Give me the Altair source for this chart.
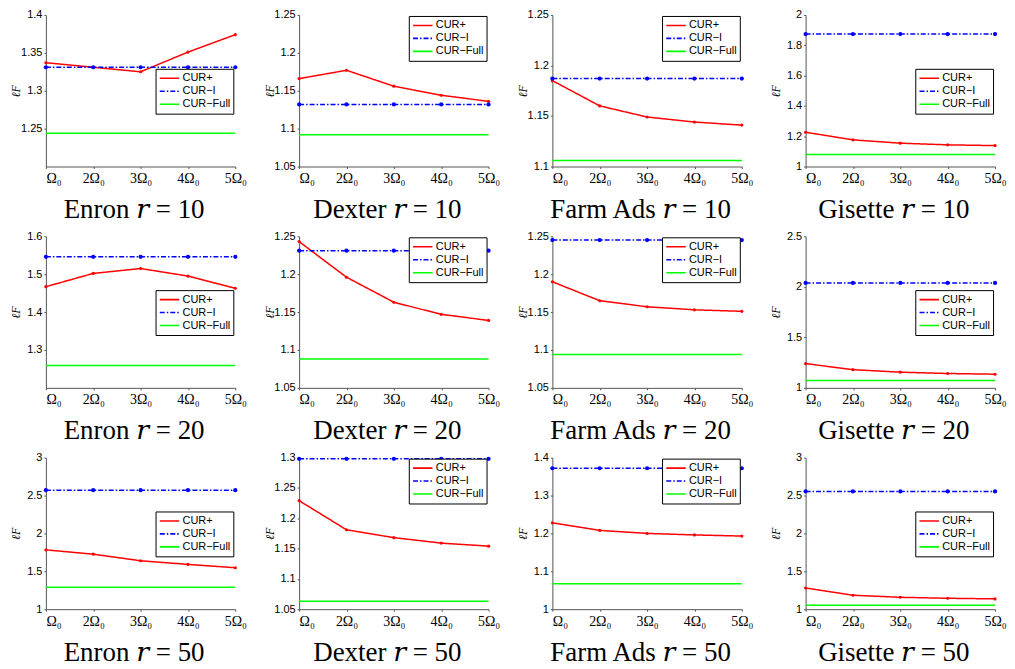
import altair as alt
import pandas as pd

STEPS = [1, 2, 3, 4, 5]
SERIES = ["CUR+", "CUR−I", "CUR−Full"]
COLORS = ["#ff0000", "#0000ff", "#00ff00"]
DASHES = [[1, 0], [5, 2, 1.5, 2], [1, 0]]

# ---- r = 10 ----
ENRON_R10_PLUS = [1.337, 1.331, 1.325, 1.351, 1.374]
ENRON_R10_I = [1.331, 1.331, 1.331, 1.331, 1.331]
ENRON_R10_FULL = [1.244, 1.244, 1.244, 1.244, 1.244]

DEXTER_R10_PLUS = [1.166, 1.177, 1.156, 1.144, 1.136]
DEXTER_R10_I = [1.132, 1.132, 1.132, 1.132, 1.132]
DEXTER_R10_FULL = [1.092, 1.092, 1.092, 1.092, 1.092]

FARM_R10_PLUS = [1.185, 1.160, 1.149, 1.144, 1.141]
FARM_R10_I = [1.187, 1.187, 1.187, 1.187, 1.187]
FARM_R10_FULL = [1.106, 1.106, 1.106, 1.106, 1.106]

GISETTE_R10_PLUS = [1.226, 1.176, 1.154, 1.143, 1.138]
GISETTE_R10_I = [1.874, 1.874, 1.874, 1.874, 1.874]
GISETTE_R10_FULL = [1.079, 1.079, 1.079, 1.079, 1.079]

# ---- r = 20 ----
ENRON_R20_PLUS = [1.467, 1.502, 1.515, 1.495, 1.463]
ENRON_R20_I = [1.546, 1.546, 1.546, 1.546, 1.546]
ENRON_R20_FULL = [1.259, 1.259, 1.259, 1.259, 1.259]

DEXTER_R20_PLUS = [1.243, 1.196, 1.163, 1.147, 1.139]
DEXTER_R20_I = [1.231, 1.231, 1.231, 1.231, 1.231]
DEXTER_R20_FULL = [1.088, 1.088, 1.088, 1.088, 1.088]

FARM_R20_PLUS = [1.190, 1.165, 1.157, 1.153, 1.151]
FARM_R20_I = [1.245, 1.245, 1.245, 1.245, 1.245]
FARM_R20_FULL = [1.094, 1.094, 1.094, 1.094, 1.094]

GISETTE_R20_PLUS = [1.240, 1.180, 1.155, 1.142, 1.135]
GISETTE_R20_I = [2.038, 2.038, 2.038, 2.038, 2.038]
GISETTE_R20_FULL = [1.073, 1.073, 1.073, 1.073, 1.073]

# ---- r = 50 ----
ENRON_R50_PLUS = [1.783, 1.726, 1.639, 1.591, 1.547]
ENRON_R50_I = [2.570, 2.570, 2.570, 2.570, 2.570]
ENRON_R50_FULL = [1.289, 1.289, 1.289, 1.289, 1.289]

DEXTER_R50_PLUS = [1.229, 1.181, 1.168, 1.159, 1.154]
DEXTER_R50_I = [1.298, 1.298, 1.298, 1.298, 1.298]
DEXTER_R50_FULL = [1.063, 1.063, 1.063, 1.063, 1.063]

FARM_R50_PLUS = [1.228, 1.208, 1.200, 1.196, 1.193]
FARM_R50_I = [1.372, 1.372, 1.372, 1.372, 1.372]
FARM_R50_FULL = [1.067, 1.067, 1.067, 1.067, 1.067]

GISETTE_R50_PLUS = [1.280, 1.184, 1.157, 1.144, 1.136]
GISETTE_R50_I = [2.554, 2.554, 2.554, 2.554, 2.554]
GISETTE_R50_FULL = [1.053, 1.053, 1.053, 1.053, 1.053]

# y axis domains / ticks per panel
TICKS_ENRON_10 = [1.25, 1.3, 1.35, 1.4]
TICKS_DEXTER_10 = [1.05, 1.1, 1.15, 1.2, 1.25]
TICKS_FARM_10 = [1.1, 1.15, 1.2, 1.25]
TICKS_GISETTE_10 = [1, 1.2, 1.4, 1.6, 1.8, 2]
TICKS_ENRON_20 = [1.3, 1.4, 1.5, 1.6]
TICKS_DEXTER_20 = [1.05, 1.1, 1.15, 1.2, 1.25]
TICKS_FARM_20 = [1.05, 1.1, 1.15, 1.2, 1.25]
TICKS_GISETTE_20 = [1, 1.5, 2, 2.5]
TICKS_ENRON_50 = [1, 1.5, 2, 2.5, 3]
TICKS_DEXTER_50 = [1.05, 1.1, 1.15, 1.2, 1.25, 1.3]
TICKS_FARM_50 = [1, 1.1, 1.2, 1.3, 1.4]
TICKS_GISETTE_50 = [1, 1.5, 2, 2.5, 3]

W, H = 190, 152
LEG_X = 110
LEG_TOP = 1
LEG_MID = 54


def panel(name, r, plus, cur_i, full, ydom, yticks, leg_y):
    df = pd.DataFrame({
        "step": STEPS * 3,
        "series": [SERIES[0]] * 5 + [SERIES[1]] * 5 + [SERIES[2]] * 5,
        "value": plus + cur_i + full,
    })
    base = alt.Chart(df)
    x = alt.X(
        "step:Q",
        scale=alt.Scale(domain=[1, 5], nice=False, zero=False),
        axis=alt.Axis(
            values=STEPS,
            labelExpr="datum.value == 1 ? 'Ω₀' : datum.value + 'Ω₀'",
            labelAlign={"condition": {"test": "datum.value == 1", "value": "left"}, "value": "center"},
            title=f"{name} 𝑟 = {r}",
            titleX=W / 2 - 7,
        ),
    )
    y = alt.Y(
        "value:Q",
        scale=alt.Scale(domain=ydom, nice=False, zero=False),
        axis=alt.Axis(values=yticks, format="~g", title="ℓF"),
    )
    leg = alt.Legend(
        orient="none", legendX=LEG_X, legendY=leg_y, title=None,
        strokeColor="black", fillColor="white", padding=3,
        labelFont="Liberation Sans", labelFontSize=11, labelColor="black",
        symbolType="stroke", symbolSize=380, symbolStrokeWidth=1.6,
        clipHeight=13, rowPadding=0, labelOffset=2, labelLimit=200,
    )
    lines = base.mark_line(strokeWidth=1.5).encode(
        x=x, y=y,
        color=alt.Color("series:N", scale=alt.Scale(domain=SERIES, range=COLORS), legend=leg),
        strokeDash=alt.StrokeDash("series:N", scale=alt.Scale(domain=SERIES, range=DASHES), legend=leg),
    )
    pts_plus = base.transform_filter(alt.datum.series == SERIES[0]).mark_point(
        filled=True, size=10, color="#ff0000", opacity=1
    ).encode(x=x, y=y)
    pts_i = base.transform_filter(alt.datum.series == SERIES[1]).mark_point(
        filled=True, size=18, color="#0000ff", opacity=1
    ).encode(x=x, y=y)
    return alt.layer(lines, pts_plus, pts_i).properties(width=W, height=H)


rows = [
    [
        panel("Enron", 10, ENRON_R10_PLUS, ENRON_R10_I, ENRON_R10_FULL, [1.2, 1.4], TICKS_ENRON_10, LEG_MID),
        panel("Dexter", 10, DEXTER_R10_PLUS, DEXTER_R10_I, DEXTER_R10_FULL, [1.05, 1.25], TICKS_DEXTER_10, LEG_TOP),
        panel("Farm Ads", 10, FARM_R10_PLUS, FARM_R10_I, FARM_R10_FULL, [1.1, 1.25], TICKS_FARM_10, LEG_TOP),
        panel("Gisette", 10, GISETTE_R10_PLUS, GISETTE_R10_I, GISETTE_R10_FULL, [1, 2], TICKS_GISETTE_10, LEG_MID),
    ],
    [
        panel("Enron", 20, ENRON_R20_PLUS, ENRON_R20_I, ENRON_R20_FULL, [1.2, 1.6], TICKS_ENRON_20, LEG_MID),
        panel("Dexter", 20, DEXTER_R20_PLUS, DEXTER_R20_I, DEXTER_R20_FULL, [1.05, 1.25], TICKS_DEXTER_20, LEG_TOP),
        panel("Farm Ads", 20, FARM_R20_PLUS, FARM_R20_I, FARM_R20_FULL, [1.05, 1.25], TICKS_FARM_20, LEG_TOP),
        panel("Gisette", 20, GISETTE_R20_PLUS, GISETTE_R20_I, GISETTE_R20_FULL, [1, 2.5], TICKS_GISETTE_20, LEG_MID),
    ],
    [
        panel("Enron", 50, ENRON_R50_PLUS, ENRON_R50_I, ENRON_R50_FULL, [1, 3], TICKS_ENRON_50, LEG_MID),
        panel("Dexter", 50, DEXTER_R50_PLUS, DEXTER_R50_I, DEXTER_R50_FULL, [1.05, 1.3], TICKS_DEXTER_50, LEG_TOP),
        panel("Farm Ads", 50, FARM_R50_PLUS, FARM_R50_I, FARM_R50_FULL, [1, 1.4], TICKS_FARM_50, LEG_TOP),
        panel("Gisette", 50, GISETTE_R50_PLUS, GISETTE_R50_I, GISETTE_R50_FULL, [1, 3], TICKS_GISETTE_50, LEG_MID),
    ],
]

hrows = [
    alt.hconcat(*row, spacing=16)
    .resolve_scale(color="independent", strokeDash="independent", x="independent", y="independent")
    .resolve_legend(color="independent", strokeDash="independent")
    for row in rows
]

chart = (
    alt.vconcat(*hrows, spacing=8)
    .resolve_scale(color="independent", strokeDash="independent", x="independent", y="independent")
    .resolve_legend(color="independent", strokeDash="independent")
    .properties(padding={"top": 0, "left": 2, "right": 0, "bottom": 0}, background="white")
    .configure_view(stroke=None)
    .configure_axis(
        grid=False, domainColor="#555555", tickColor="#555555", tickSize=2,
        labelColor="black", titleColor="black",
    )
    .configure_axisX(
        labelFont="Liberation Serif", labelFontSize=14, labelPadding=3,
        titleFont="Liberation Serif, DejaVu Serif", titleFontSize=27, titleFontWeight="normal",
        titlePadding=11,
    )
    .configure_axisY(
        labelFont="Liberation Sans", labelFontSize=11, labelPadding=2,
        titleFont="Liberation Serif", titleFontSize=12, titleFontStyle="italic",
        titleFontWeight="normal", titlePadding=0, minExtent=23, maxExtent=23,
    )
)

chart.save("out.html", embed_options={"renderer": "svg", "actions": False})
